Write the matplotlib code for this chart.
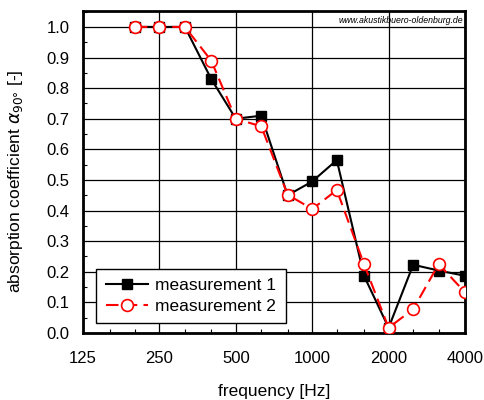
import matplotlib.pyplot as plt
from matplotlib.ticker import FixedLocator, NullFormatter, MultipleLocator

plt.rcParams['font.family'] = ['Liberation Sans', 'DejaVu Sans']

freqs = [200, 250, 315, 400, 500, 630, 800, 1000, 1250, 1600, 2000, 2500, 3150, 4000]
meas1 = [1.0, 1.0, 1.0, 0.83, 0.70, 0.71, 0.45, 0.495, 0.565, 0.187, 0.017, 0.223, 0.204, 0.187]
meas2 = [1.0, 1.0, 1.0, 0.89, 0.70, 0.675, 0.452, 0.405, 0.467, 0.225, 0.017, 0.078, 0.225, 0.133]
xticks = [125, 250, 500, 1000, 2000, 4000]
minor_x = [160, 200, 315, 400, 630, 800, 1250, 1600, 2500, 3150]

fig = plt.figure(figsize=(4.85, 4.0), dpi=100)
ax = fig.add_axes([83 / 485, 67 / 400, 382 / 485, 322 / 400])

ax.plot(freqs, meas1, '-', color='black', lw=1.5, marker='s', ms=7.5,
        mfc='black', mec='black', label='measurement 1', zorder=3)
ax.plot(freqs, meas2, '--', color='red', lw=1.5, dashes=(6, 3), marker='o', ms=8.5,
        mfc='white', mec='red', mew=1.2, label='measurement 2', zorder=4)

ax.set_xscale('log')
ax.set_xlim(125, 4000)
ax.set_ylim(0, 1.052)
ax.xaxis.set_major_locator(FixedLocator(xticks))
ax.xaxis.set_minor_locator(FixedLocator(minor_x))
ax.xaxis.set_minor_formatter(NullFormatter())
ax.set_xticklabels([str(t) for t in xticks])
ax.yaxis.set_major_locator(FixedLocator([i / 10 for i in range(11)]))
ax.yaxis.set_minor_locator(MultipleLocator(0.05))
ax.set_yticklabels(['%.1f' % (i / 10) for i in range(11)])

ax.tick_params(which='both', direction='in', labelsize=12)
ax.tick_params(axis='x', which='major', length=0, pad=13)
ax.tick_params(axis='y', which='major', length=0, pad=9.5)
ax.tick_params(which='minor', length=3, width=0.8)
ax.grid(True, which='major', color='black', lw=0.9)
for s in ax.spines.values():
    s.set_linewidth(2)

ax.set_xlabel('frequency [Hz]', fontsize=12.5, labelpad=13)
ax.set_ylabel(r'absorption coefficient $\alpha_{90°}$ [-]', fontsize=12.5)
ax.yaxis.set_label_coords(-0.152, 0.47)

ax.text(0.995, 0.985, 'www.akustikbuero-oldenburg.de', transform=ax.transAxes,
        ha='right', va='top', fontsize=6.3, style='italic')

leg = ax.legend(loc='lower left', bbox_to_anchor=(0.035, 0.03), fontsize=12.5,
                fancybox=False, edgecolor='black', framealpha=1,
                handlelength=2.4, handletextpad=0.45, borderpad=0.55,
                labelspacing=0.3, borderaxespad=0)
leg.get_frame().set_linewidth(1.0)

fig.savefig('out.png', dpi=100)
